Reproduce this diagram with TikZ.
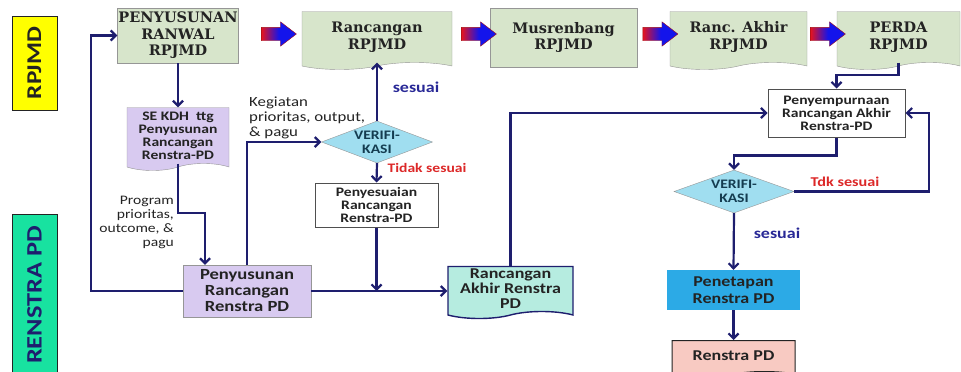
\documentclass[tikz,border=0pt]{standalone}
\usepackage{fontspec}
\setmainfont{DejaVu Serif}
\setsansfont{Carlito}[FakeStretch=1.2]
\usepackage{tikz}
\usetikzlibrary{shapes.geometric,shapes.symbols,shapes.arrows,arrows.meta,positioning}
\definecolor{sagegreen}{RGB}{215, 229, 203}
\definecolor{boxgrey}{RGB}{150, 150, 150}
\definecolor{lavender}{RGB}{216, 202, 240}
\definecolor{paleteal}{RGB}{182, 236, 224}
\definecolor{diamondcyan}{RGB}{160, 222, 240}
\definecolor{skyblue}{RGB}{44, 170, 230}
\definecolor{palepink}{RGB}{248, 202, 194}
\definecolor{labelyellow}{RGB}{255, 255, 0}
\definecolor{labelmint}{RGB}{24, 226, 160}
\definecolor{arrownavy}{RGB}{30, 30, 110}
\definecolor{okblue}{RGB}{40, 40, 150}
\definecolor{failred}{RGB}{220, 40, 40}
\definecolor{arrowred}{RGB}{230, 20, 30}
\definecolor{arrowblue}{RGB}{20, 20, 235}
\definecolor{darkink}{RGB}{35, 35, 35}
\definecolor{tealink}{RGB}{20, 60, 80}

\begin{document}
\begin{tikzpicture}[x=1pt,y=-1pt,
    flow/.style={draw=arrownavy,line width=2.2pt,-{Straight Barb[length=5pt,width=10pt]}},
    stage/.style={draw=boxgrey,fill=sagegreen,text=darkink,align=center,inner sep=1pt,
        font=\rmfamily\bfseries\fontsize{14.5}{16.5}\selectfont},
    docshape/.style={tape,tape bend top=none,tape bend height=7pt},
    pdbox/.style={align=center,inner sep=1pt,text=darkink,font=\sffamily\bfseries\fontsize{13}{13}\selectfont},
    verif/.style={diamond,aspect=2.6,inner sep=0pt,draw=boxgrey,fill=diamondcyan,text=tealink,
        align=center,font=\sffamily\bfseries\fontsize{13}{14}\selectfont},
    fatarrow/.style={single arrow,minimum height=35pt,single arrow head extend=5.5pt,
        single arrow tip angle=75,inner xsep=0pt,inner ysep=6.5pt,draw=arrowred!70!black,line width=0.4pt,
        left color=arrowred,right color=arrowblue,middle color=arrowblue},
    sidelabel/.style={rotate=90,draw=darkink,line width=0.8pt,minimum height=45pt,inner sep=2pt,
        font=\sffamily\bfseries\fontsize{21}{21}\selectfont}]
    \useasboundingbox (0,0) rectangle (961,372);
    % side labels
    \node[sidelabel,fill=labelyellow,text=darkink,minimum width=94pt] (lblrpjmd) at (34.5,63) {RPJMD};
    \node[sidelabel,fill=labelmint,text=arrownavy,minimum width=162pt,font=\sffamily\bfseries\fontsize{22}{22}\selectfont]
        (lblrenstra) at (34.5,295) {RENSTRA PD};
    % RPJMD stages
    \node[stage,minimum width=121pt,minimum height=55pt] (ranwal) at (178,35.5) {PENYUSUNAN\\RANWAL\\RPJMD};
    \node[stage,docshape,minimum width=150pt,minimum height=58pt] (rancrpjmd) at (377,37) {Rancangan\\RPJMD};
    \node[stage,minimum width=147pt,minimum height=59pt] (musren) at (563.5,37.5) {Musrenbang\\RPJMD};
    \node[stage,docshape,minimum width=137pt,minimum height=58pt] (rancakhir) at (738.5,37) {Ranc. Akhir\\RPJMD};
    \node[stage,docshape,minimum width=123pt,minimum height=58pt] (perda) at (898.5,37) {PERDA\\RPJMD};
    \node[fatarrow] (fat1) at (274.5,34) {};
    \node[fatarrow] (fat2) at (474.5,34) {};
    \node[fatarrow] (fat3) at (656,34) {};
    \node[fatarrow] (fat4) at (823.5,34) {};
    % Renstra PD steps
    \node[pdbox,docshape,draw=boxgrey,fill=lavender,minimum width=102pt,minimum height=63pt] (sekdh) at (178,135.5)
        {SE KDH\ \ ttg\\Penyusunan\\Rancangan\\Renstra-PD};
    \node[pdbox,draw=boxgrey,fill=lavender,minimum width=128pt,minimum height=52pt,
        font=\sffamily\bfseries\fontsize{15.5}{16}\selectfont] (pyrancang) at (247,291)
        {Penyusunan\\Rancangan\\Renstra PD};
    \node[verif,minimum width=111pt,minimum height=42pt] (verif1) at (377,142) {VERIFI-\\KASI};
    \node[pdbox,draw=darkink!80,line width=1pt,fill=white,minimum width=123pt,minimum height=44pt] (penyesuaian) at (376.5,205)
        {Penyesuaian\\Rancangan\\Renstra-PD};
    \node[pdbox,docshape,draw=arrownavy,line width=1.4pt,fill=paleteal,minimum width=125pt,minimum height=52pt,
        font=\sffamily\bfseries\fontsize{15}{15}\selectfont] (rarenstra) at (510.5,289)
        {Rancangan\\Akhir Renstra\\PD};
    \node[pdbox,draw=darkink!80,line width=1pt,fill=white,minimum width=137pt,minimum height=48pt] (penyemp) at (836.5,113)
        {Penyempurnaan\\Rancangan Akhir\\Renstra-PD};
    \node[verif,minimum width=120pt,minimum height=43pt] (verif2) at (734,191.5) {VERIFI-\\KASI};
    \node[pdbox,fill=skyblue,minimum width=133pt,minimum height=40pt,
        font=\sffamily\bfseries\fontsize{15}{17}\selectfont] (penetapan) at (733.5,290) {Penetapan\\Renstra PD};
    \node[pdbox,docshape,tape bend height=5pt,draw=darkink,line width=1pt,fill=palepink,minimum width=123pt,minimum height=36pt,
        font=\sffamily\bfseries\fontsize{15}{17}\selectfont] (renstrapd) at (733.5,356) {Renstra PD};
    % connectors
    \coordinate (progbend) at (205,213);
    \draw[flow] (ranwal.south) -- (sekdh.north);
    \draw[flow] (sekdh.south) |- (progbend) -- (progbend |- pyrancang.north);
    \draw[flow] (pyrancang.west) -- ++(-92,0) |- (ranwal.west);
    \draw[flow] (pyrancang.north) |- (verif1.west);
    \draw[flow] (verif1.north) -- (rancrpjmd.south);
    \draw[flow] (verif1.south) -- (penyesuaian.north);
    \draw[flow] (penyesuaian.south) -- (penyesuaian.south |- pyrancang.east);
    \draw[flow] (pyrancang.east) -- (pyrancang.east -| rarenstra.west);
    \draw[flow] (rarenstra.north) |- (penyemp.west);
    \draw[flow] (perda.south) -- ++(0,12) -| (penyemp.north);
    \draw[flow] (penyemp.south) -- ++(0,18) -| (verif2.north);
    \draw[flow] (verif2.east) -- ++(135,0) |- (penyemp.east);
    \draw[flow] (verif2.south) -- (penetapan.north);
    \draw[flow] (penetapan.south) -- (renstrapd.north);
    % connector labels
    \node[anchor=east,align=right,text=darkink,inner sep=0pt,font=\sffamily\fontsize{13}{14}\selectfont] (lblprogram) at (174,222)
        {Program\\prioritas,\\outcome, \&\\pagu};
    \node[anchor=west,align=left,text=darkink,inner sep=0pt,font=\sffamily\fontsize{14}{15}\selectfont] (lblkegiatan) at (249,118)
        {Kegiatan\\prioritas, output,\\\& pagu};
    \node[text=okblue,font=\sffamily\bfseries\fontsize{15}{15}\selectfont] (lblok1) at (416,87) {sesuai};
    \node[text=failred,font=\sffamily\bfseries\fontsize{13}{13}\selectfont] (lblfail1) at (427,168) {Tidak sesuai};
    \node[text=failred,font=\sffamily\bfseries\fontsize{13.5}{13.5}\selectfont] (lblfail2) at (845,182) {Tdk sesuai};
    \node[text=okblue,font=\sffamily\bfseries\fontsize{15}{15}\selectfont] (lblok2) at (777,233) {sesuai};
\end{tikzpicture}
\end{document}
